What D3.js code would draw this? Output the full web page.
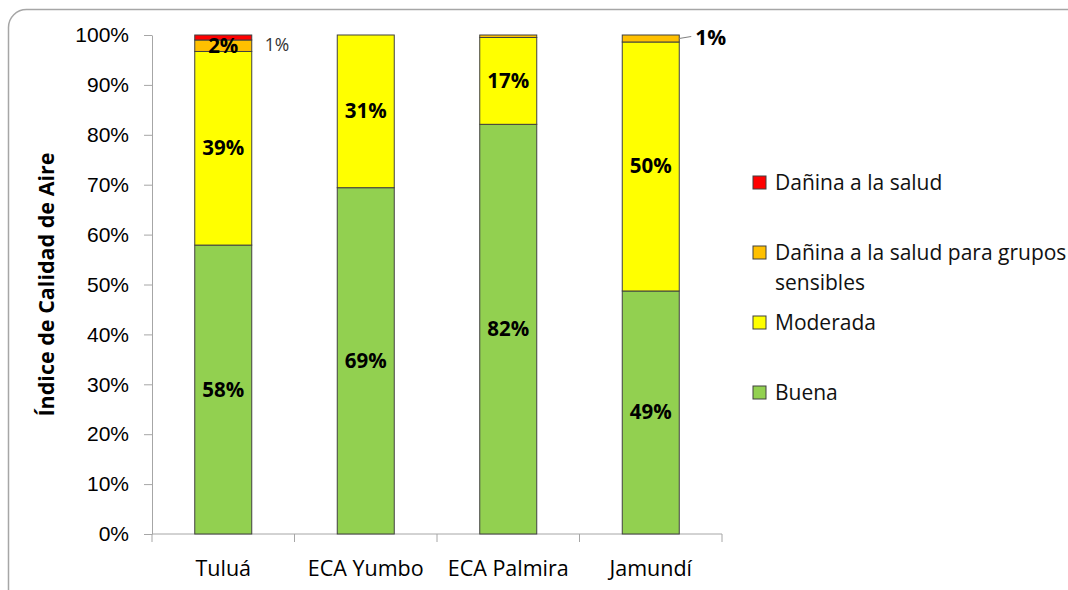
<!DOCTYPE html>
<html>
<head>
<meta charset="utf-8">
<script src="https://cdn.jsdelivr.net/npm/d3@7"></script>
<style>
  body { margin: 0; background: #fff; }
  svg { display: block; font-family: "Open Sans", "Noto Sans", sans-serif; }
</style>
</head>
<body>
<svg width="1068" height="590"></svg>
<script>
const categories = ['Tuluá', 'ECA Yumbo', 'ECA Palmira', 'Jamundí'];
const seriesNames = ['Buena', 'Moderada', 'Dañina a la salud para grupos sensibles', 'Dañina a la salud'];
const buena = [57.9, 69.4, 82.1, 48.7];
const moderada = [38.8, 30.6, 17.4, 49.9];
const sensibles = [2.3, 0, 0.5, 1.4];
const danina = [1.0, 0, 0, 0];
const yTicks = [0, 10, 20, 30, 40, 50, 60, 70, 80, 90, 100];
const colors = ['#92D050', '#FFFF00', '#FFC000', '#FF0000'];

const svg = d3.select('svg');

// outer rounded frame
svg.append('rect')
    .attr('x', 8.5).attr('y', 9.5)
    .attr('width', 1080).attr('height', 600)
    .attr('rx', 18)
    .attr('fill', 'none')
    .attr('stroke', '#a6a6a6')
    .attr('stroke-width', 1.5);

const plotL = 152, plotR = 722, plotT = 35, plotB = 534;

const x = d3.scaleBand().domain(categories).range([plotL, plotR]).paddingInner(0.6).paddingOuter(0.3);
const xOuter = d3.scaleBand().domain(categories).range([plotL, plotR]);
const y = d3.scaleLinear().domain([0, 100]).range([plotB, plotT]);

const rows = categories.map((c, i) => ({
    cat: c, s0: buena[i], s1: moderada[i], s2: sensibles[i], s3: danina[i]
}));
const stack = d3.stack().keys(['s0', 's1', 's2', 's3']);
const layers = stack(rows);

// y axis
const yAxis = svg.append('g')
    .attr('transform', `translate(${plotL},0)`)
    .call(d3.axisLeft(y).tickValues(yTicks).tickFormat(d => d + '%').tickSize(8).tickSizeOuter(0));
yAxis.select('.domain').attr('stroke', '#a6a6a6');
yAxis.selectAll('.tick line').attr('stroke', '#a6a6a6');
yAxis.selectAll('.tick text').attr('font-size', 21).attr('fill', '#000').attr('x', -23);

// x axis
const xAxis = svg.append('g').attr('transform', `translate(0,${plotB})`);
xAxis.append('line').attr('x1', plotL).attr('x2', plotR).attr('stroke', '#a6a6a6');
xAxis.selectAll('line.tk')
    .data(categories.map(c => xOuter(c)).concat([plotR]))
    .enter().append('line')
    .attr('class', 'tk')
    .attr('x1', d => d).attr('x2', d => d)
    .attr('y1', 0).attr('y2', 8)
    .attr('stroke', '#a6a6a6');
xAxis.selectAll('text')
    .data(categories)
    .enter().append('text')
    .attr('x', d => xOuter(d) + xOuter.bandwidth() / 2)
    .attr('y', 42)
    .attr('text-anchor', 'middle')
    .attr('font-size', 21.5)
    .text(d => d);

// y title
svg.append('text')
    .attr('transform', `translate(54,${(plotT + plotB) / 2}) rotate(-90)`)
    .attr('text-anchor', 'middle')
    .attr('font-size', 21.5)
    .attr('font-weight', 'bold')
    .text('Índice de Calidad de Aire');

// bars
layers.forEach((layer, k) => {
    svg.append('g').selectAll('rect')
        .data(layer.filter(d => d[1] - d[0] > 0))
        .enter().append('rect')
        .attr('x', d => x(d.data.cat))
        .attr('y', d => y(d[1]))
        .attr('width', x.bandwidth())
        .attr('height', d => y(d[0]) - y(d[1]))
        .attr('fill', colors[k])
        .attr('stroke', '#404040')
        .attr('stroke-width', 1);
});

// data labels
const labels = [];
layers.forEach((layer, k) => {
    layer.forEach(d => {
        const v = d[1] - d[0];
        if (v >= 2) labels.push({cat: d.data.cat, v: v, mid: (d[0] + d[1]) / 2, k: k});
    });
});
svg.append('g').selectAll('text')
    .data(labels)
    .enter().append('text')
    .attr('x', d => x(d.cat) + x.bandwidth() / 2)
    .attr('y', d => y(d.mid) + 7)
    .attr('text-anchor', 'middle')
    .attr('font-size', 20.5)
    .attr('font-weight', 'bold')
    .text(d => Math.round(d.v) + '%');

// small label for Tuluá "Dañina"
svg.append('text')
    .attr('x', x('Tuluá') + x.bandwidth() + 13)
    .attr('y', y(99.5) + 14)
    .attr('font-size', 17.5)
    .attr('fill', '#333')
    .text(Math.round(danina[0]) + '%');

// Jamundí sensibles label with leader line
const jx = x('Jamundí') + x.bandwidth();
const jy = y(buena[3] + moderada[3] + sensibles[3] / 2);
svg.append('path')
    .attr('d', `M${jx},${jy} L${jx + 12},${jy - 2}`)
    .attr('stroke', '#808080')
    .attr('fill', 'none');
svg.append('text')
    .attr('x', jx + 16)
    .attr('y', jy + 7)
    .attr('font-size', 21)
    .attr('font-weight', 'bold')
    .text(Math.round(sensibles[3]) + '%');

// legend
const legendItems = [
    {lines: ['Dañina a la salud'], c: colors[3], y: 183},
    {lines: ['Dañina a la salud para grupos', 'sensibles'], c: colors[2], y: 253},
    {lines: ['Moderada'], c: colors[1], y: 323},
    {lines: ['Buena'], c: colors[0], y: 393}
];
const lg = svg.append('g').selectAll('g')
    .data(legendItems)
    .enter().append('g')
    .attr('transform', d => `translate(753,${d.y})`);
lg.append('rect')
    .attr('x', 0).attr('y', -7)
    .attr('width', 13).attr('height', 13)
    .attr('fill', d => d.c)
    .attr('stroke', '#404040');
lg.each(function (d) {
    const t = d3.select(this).append('text')
        .attr('x', 22).attr('y', 7)
        .attr('font-size', 21)
        .attr('fill', '#111');
    d.lines.forEach((l, i) => {
        t.append('tspan').attr('x', 22).attr('dy', i === 0 ? 0 : 30).text(l);
    });
});
</script>
</body>
</html>
